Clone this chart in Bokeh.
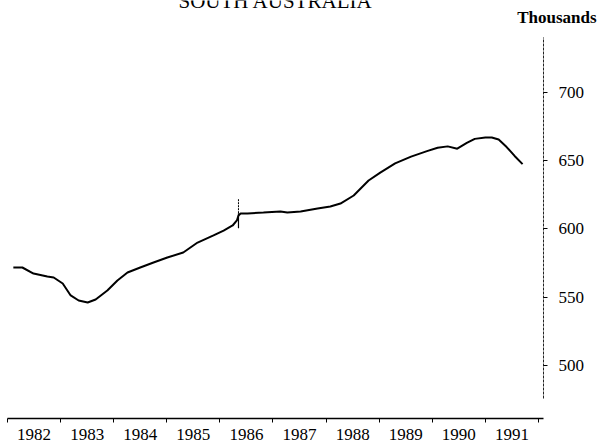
from bokeh.plotting import figure
from bokeh.models import LinearAxis, FixedTicker, Range1d, Label
from bokeh.embed import file_html
from bokeh.resources import INLINE

# ---- data (thousands, South Australia) ----
years = [1982.11, 1982.28, 1982.49, 1982.75, 1982.87, 1983.04, 1983.19, 1983.34,
         1983.51, 1983.66, 1983.88, 1984.07, 1984.26, 1984.50, 1984.75, 1985.01,
         1985.31, 1985.58, 1985.88, 1986.07, 1986.24, 1986.32, 1986.35, 1986.39,
         1986.52, 1986.82, 1987.14, 1987.27, 1987.52, 1987.84, 1988.08, 1988.27,
         1988.52, 1988.80, 1989.02, 1989.30, 1989.60, 1989.90, 1990.10, 1990.29,
         1990.47, 1990.65, 1990.80, 1991.00, 1991.12, 1991.25, 1991.40, 1991.55,
         1991.70]
values = [571.7, 571.7, 567.3, 565.1, 564.4, 560.0, 551.2, 547.5,
          546.0, 548.2, 554.8, 562.2, 568.0, 571.7, 575.4, 579.0,
          582.7, 590.0, 595.2, 598.8, 602.5, 606.2, 609.8, 611.3,
          611.3, 612.0, 612.8, 612.0, 612.8, 615.0, 616.4, 618.6,
          624.5, 635.5, 641.3, 648.0, 653.0, 657.0, 659.5, 660.5,
          658.8, 663.0, 666.0, 667.0, 667.0, 665.5, 660.0, 653.5,
          647.5]

x_boundaries = [1982, 1983, 1984, 1985, 1986, 1987, 1988, 1989, 1990, 1991, 1992]
x_label_pos = [1982.5, 1983.5, 1984.5, 1985.5, 1986.5, 1987.5, 1988.5, 1989.5, 1990.5, 1991.5]
x_labels = ["1982", "1983", "1984", "1985", "1986", "1987", "1988", "1989", "1990", "1991"]
y_ticks = [500, 550, 600, 650, 700]
y_labels = ["500", "550", "600", "650", "700"]

break_year = 1986.35
break_low, break_mid, break_high = 600.5, 611.5, 622.5

title_text = "SOUTH AUSTRALIA"
unit_text = "Thousands"

FONT = "Liberation Serif"

# axis extents (in data units)
x_axis_end = 1992.094
y_axis_bounds = (475.7, 740.3)

p = figure(width=616, height=448, output_backend="svg", toolbar_location=None,
           title_location=None,
           x_range=Range1d(1982.0, 1993.469), y_range=Range1d(461.0, 767.45),
           x_axis_location=None, y_axis_location=None,
           min_border_left=7, min_border_right=0, min_border_top=0,
           min_border_bottom=30)
p.outline_line_color = None
p.background_fill_color = "white"
p.border_fill_color = "white"
for g in p.grid:
    g.visible = False

# bottom axis: minor ticks at year boundaries, labels centred in each year
xaxis = LinearAxis(ticker=FixedTicker(ticks=x_label_pos, minor_ticks=x_boundaries),
                   bounds=(1982.0, x_axis_end))
xaxis.major_label_overrides = {pos: lab for pos, lab in zip(x_label_pos, x_labels)}
xaxis.major_tick_line_color = None
xaxis.major_tick_in = 0
xaxis.major_tick_out = 0
xaxis.minor_tick_in = 0
xaxis.minor_tick_out = 4
xaxis.minor_tick_line_color = "black"
xaxis.axis_line_color = "black"
xaxis.axis_line_width = 1.3
xaxis.major_label_standoff = 6
xaxis.major_label_text_font = FONT
xaxis.major_label_text_font_size = "17px"
xaxis.major_label_text_color = "black"
p.add_layout(xaxis, "below")

# right-hand value axis, drawn at the end of the time axis
yaxis = LinearAxis(ticker=FixedTicker(ticks=y_ticks, minor_ticks=[]),
                   bounds=y_axis_bounds, fixed_location=x_axis_end)
yaxis.major_label_overrides = {t: lab for t, lab in zip(y_ticks, y_labels)}
yaxis.axis_line_color = "#222222"
yaxis.axis_line_dash = "3 1"
yaxis.axis_line_width = 1
yaxis.major_tick_in = 0
yaxis.major_tick_out = 4
yaxis.major_tick_line_color = "black"
yaxis.major_label_standoff = 11
yaxis.major_label_orientation = "horizontal"
yaxis.major_label_text_font = FONT
yaxis.major_label_text_font_size = "17px"
yaxis.major_label_text_color = "black"
p.add_layout(yaxis, "right")

# series
p.line(years, values, line_width=2, line_color="black")

# series break marker
p.segment(x0=[break_year], y0=[break_low], x1=[break_year], y1=[break_mid],
          line_color="black", line_width=1.2)
p.segment(x0=[break_year], y0=[break_mid], x1=[break_year], y1=[break_high],
          line_color="black", line_width=1, line_dash="2 1")

p.add_layout(Label(x=1987.05, y=766.8, text=title_text, text_align="center",
                   text_baseline="alphabetic", text_font=FONT,
                   text_font_size="21px", text_color="black"))
p.add_layout(Label(x=1991.60, y=755.3, text=unit_text, text_align="left",
                   text_baseline="alphabetic", text_font=FONT,
                   text_font_style="bold", text_font_size="17px",
                   text_color="black"))

open("out.html", "w").write(file_html(p, INLINE))
